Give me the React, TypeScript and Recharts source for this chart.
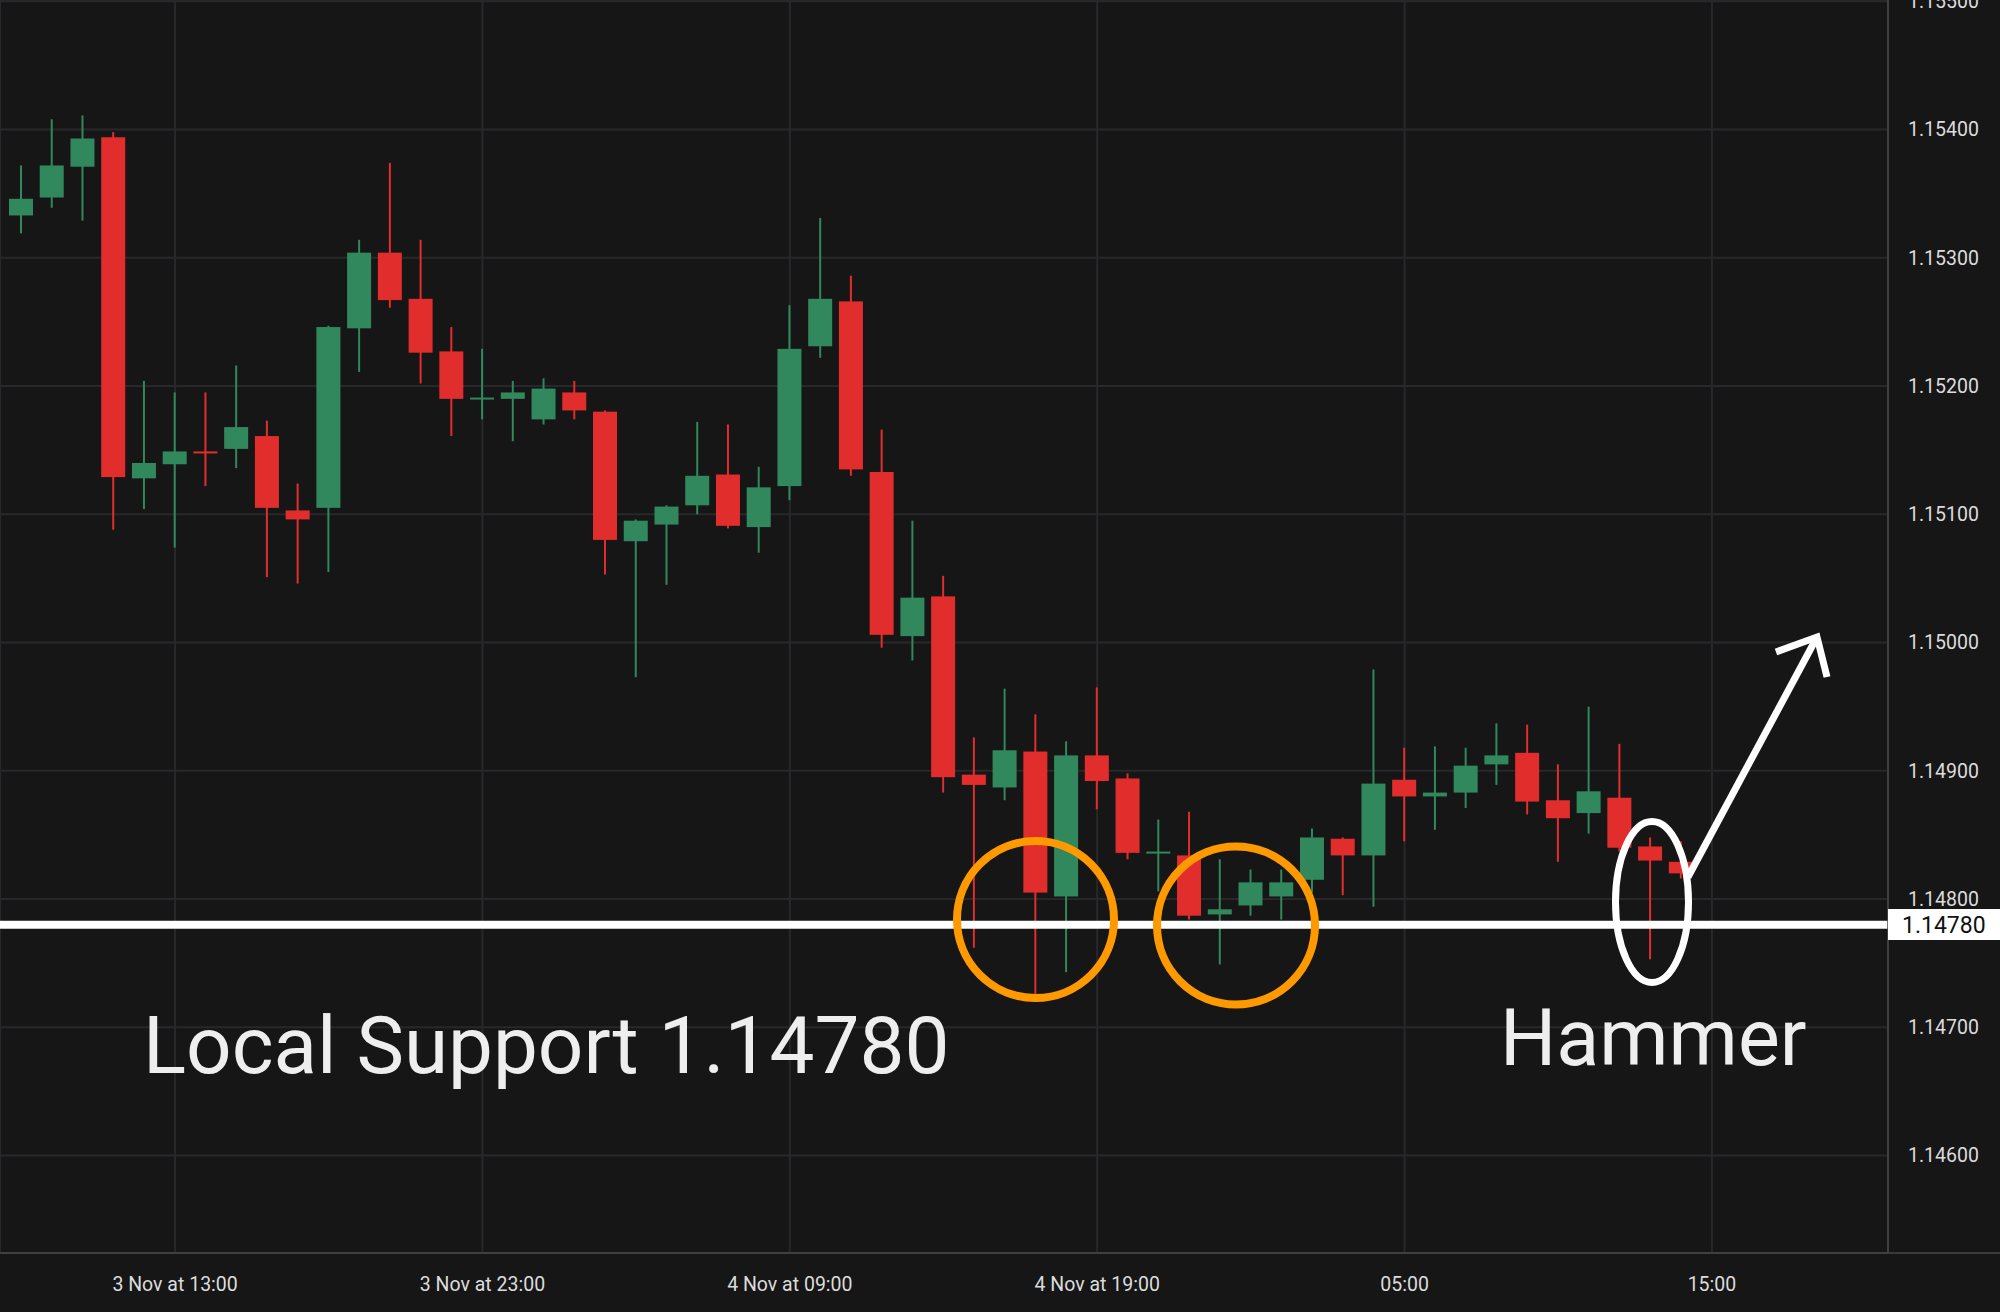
import { ComposedChart, Bar, XAxis, YAxis, CartesianGrid, ReferenceLine } from "recharts";

// hourly EUR/USD candles, hour counted from 3 Nov 00:00
const candleHours = [
  8, 9, 10, 11, 12, 13, 14, 15, 16, 17, 18, 19, 20, 21, 22, 23, 24, 25, 26, 27,
  28, 29, 30, 31, 32, 33, 34, 35, 36, 37, 38, 39, 40, 41, 42, 43, 44, 45, 46, 47,
  48, 49, 50, 51, 52, 53, 54, 55, 56, 57, 58, 59, 60, 61, 62,
];
const opens = [
  1.15333, 1.15347, 1.15371, 1.15394, 1.15128, 1.15139, 1.15149, 1.15151, 1.15161, 1.15103,
  1.15105, 1.15245, 1.15304, 1.15268, 1.15227, 1.1519, 1.1519, 1.15174, 1.15195, 1.1518,
  1.15079, 1.15092, 1.15107, 1.15131, 1.1509, 1.15122, 1.15231, 1.15266, 1.15133, 1.15005,
  1.15036, 1.14897, 1.14887, 1.14915, 1.14802, 1.14912, 1.14894, 1.14836, 1.14834, 1.14788,
  1.14795, 1.14802, 1.14815, 1.14847, 1.14834, 1.14893, 1.1488, 1.14883, 1.14905, 1.14914,
  1.14877, 1.14867, 1.14879, 1.14841, 1.14829,
];
const highs = [
  1.15372, 1.15408, 1.15411, 1.15398, 1.15204, 1.15195, 1.15195, 1.15216, 1.15173, 1.15124,
  1.15247, 1.15314, 1.15374, 1.15314, 1.15246, 1.15229, 1.15204, 1.15206, 1.15204, 1.15181,
  1.15096, 1.15107, 1.15172, 1.1517, 1.15137, 1.15263, 1.15331, 1.15286, 1.15166, 1.15095,
  1.15052, 1.14926, 1.14964, 1.14944, 1.14923, 1.14965, 1.14898, 1.14862, 1.14868, 1.14831,
  1.14823, 1.14823, 1.14855, 1.14848, 1.14979, 1.14918, 1.14919, 1.14918, 1.14937, 1.14936,
  1.14905, 1.1495, 1.14921, 1.14848, 1.14845,
];
const lows = [
  1.15319, 1.15339, 1.15329, 1.15088, 1.15104, 1.15074, 1.15122, 1.15136, 1.15051, 1.15046,
  1.15055, 1.15211, 1.15261, 1.15202, 1.15161, 1.15174, 1.15157, 1.1517, 1.15174, 1.15053,
  1.14973, 1.15045, 1.151, 1.15089, 1.1507, 1.15111, 1.15222, 1.1513, 1.14996, 1.14986,
  1.14883, 1.14762, 1.14877, 1.14725, 1.14743, 1.1487, 1.14831, 1.14806, 1.14784, 1.14749,
  1.14787, 1.14784, 1.14805, 1.14803, 1.14794, 1.14845, 1.14854, 1.14871, 1.14889, 1.14866,
  1.14829, 1.14851, 1.14837, 1.14753, 1.14816,
];
const closes = [
  1.15346, 1.15372, 1.15393, 1.15129, 1.1514, 1.15149, 1.15148, 1.15168, 1.15105, 1.15096,
  1.15246, 1.15304, 1.15267, 1.15226, 1.1519, 1.15191, 1.15195, 1.15198, 1.15181, 1.1508,
  1.15095, 1.15106, 1.1513, 1.15091, 1.15121, 1.15229, 1.15268, 1.15135, 1.15006, 1.15035,
  1.14895, 1.14889, 1.14916, 1.14805, 1.14912, 1.14892, 1.14836, 1.14837, 1.14787, 1.14792,
  1.14813, 1.14813, 1.14848, 1.14834, 1.1489, 1.1488, 1.14883, 1.14904, 1.14912, 1.14876,
  1.14863, 1.14884, 1.1484, 1.1483, 1.1482,
];

const tickHours = [13, 23, 33, 43, 53, 63];
const tickLabels = ["3 Nov at 13:00", "3 Nov at 23:00", "4 Nov at 09:00", "4 Nov at 19:00", "05:00", "15:00"];
const priceTicks = [1.146, 1.147, 1.148, 1.149, 1.15, 1.151, 1.152, 1.153, 1.154, 1.155];
const supportLevel = 1.1478;

const GREEN = "#31885c";
const RED = "#e22d2d";
const BG = "#161616";
const GRID = "#28282c";
const AXIS = "#474747";
const LABEL = "#dcdcdc";

// empty slots after the last candle keep the time axis running to 5 Nov 20:00
const slots: number[] = [];
for (let h = 8; h <= 68; h++) slots.push(h);

const data = slots.map((hour) => {
  const i = candleHours.indexOf(hour);
  if (i < 0) return { hour };
  return { hour, open: opens[i], high: highs[i], low: lows[i], close: closes[i] };
});

function Candle(props: any) {
  const { x, y, width, height, payload } = props;
  if (!payload || payload.open == null || !height) return null;
  const { open, close, high, low } = payload;
  const color = close >= open ? GREEN : RED;
  const ratio = height / (high - low);
  const yAt = (v: number) => y + (high - v) * ratio;
  const top = yAt(Math.max(open, close));
  const bottom = yAt(Math.min(open, close));
  const cx = x + width / 2;
  return (
    <g>
      <rect x={cx - 1} y={y} width={2} height={height} fill={color} />
      <rect x={x} y={top} width={width} height={Math.max(bottom - top, 2)} fill={color} />
    </g>
  );
}

// plain tick text, so the top label is cut by the chart edge like the original
function PriceTick(props: any) {
  const { x, y, payload } = props;
  return (
    <text x={x} y={y} dy="0.355em" textAnchor="start" fill={LABEL} fontSize={19.5} fontFamily="Roboto">
      {Number(payload.value).toFixed(5)}
    </text>
  );
}

function Annotations() {
  return (
    <svg
      width={2000}
      height={1312}
      style={{ position: "absolute", left: 0, top: 0, pointerEvents: "none" }}
    >
      <line x1={1888} y1={1253} x2={2000} y2={1253} stroke={AXIS} strokeWidth={1.5} />
      <circle cx={1035.5} cy={919.5} r={78.5} fill="none" stroke="#ff9900" strokeWidth={8} />
      <circle cx={1236} cy={925.5} r={79} fill="none" stroke="#ff9900" strokeWidth={8} />
      <ellipse cx={1652} cy={902} rx={36.5} ry={80.5} fill="none" stroke="#ffffff" strokeWidth={7} />
      <polyline points="1688,877 1817,637" fill="none" stroke="#ffffff" strokeWidth={7} />
      <polyline
        points="1776,652 1817,637 1827,677"
        fill="none"
        stroke="#ffffff"
        strokeWidth={7}
        strokeLinejoin="miter"
      />
      <rect x={1888} y={909} width={112} height={31} fill="#ffffff" />
      <text
        x={1902}
        y={925}
        dominantBaseline="central"
        fontFamily="Roboto"
        fontSize={23}
        fill="#111111"
      >
        1.14780
      </text>
      <text x={143} y={1073} fontFamily="Roboto" fontSize={80} fill="#eeeeee">
        Local Support 1.14780
      </text>
      <text x={1500} y={1065} fontFamily="Roboto" fontSize={79} fill="#eeeeee">
        Hammer
      </text>
    </svg>
  );
}

export default function App() {
  return (
    <div
      style={{
        position: "absolute",
        left: 0,
        top: 0,
        width: 2000,
        height: 1312,
        background: BG,
        fontFamily: "Roboto",
      }}
    >
      <ComposedChart
        width={2000}
        height={1312}
        data={data}
        margin={{ top: 0, right: 0, bottom: 0, left: 0 }}
      >
        <CartesianGrid stroke={GRID} strokeWidth={2} />
        <XAxis
          dataKey="hour"
          type="category"
          ticks={tickHours}
          interval={0}
          tickFormatter={(h: number) => tickLabels[tickHours.indexOf(h)] ?? ""}
          padding={{ left: 6, right: 7 }}
          height={59}
          tickSize={0}
          tickMargin={24}
          tick={{ fill: LABEL, fontSize: 19.5 }}
          axisLine={{ stroke: AXIS, strokeWidth: 1.5 }}
        />
        <YAxis
          orientation="right"
          type="number"
          domain={[1.14524, 1.15501]}
          allowDataOverflow
          ticks={priceTicks}
          interval={0}
          width={112}
          tickSize={0}
          tickMargin={20}
          tick={PriceTick}
          axisLine={{ stroke: AXIS, strokeWidth: 1.5 }}
        />
        <Bar
          dataKey={(d: any) => (d.open == null ? null : [d.low, d.high])}
          barSize={24}
          shape={Candle}
          isAnimationActive={false}
        />
        <ReferenceLine y={supportLevel} stroke="#ffffff" strokeWidth={8} />
      </ComposedChart>
      <Annotations />
    </div>
  );
}
